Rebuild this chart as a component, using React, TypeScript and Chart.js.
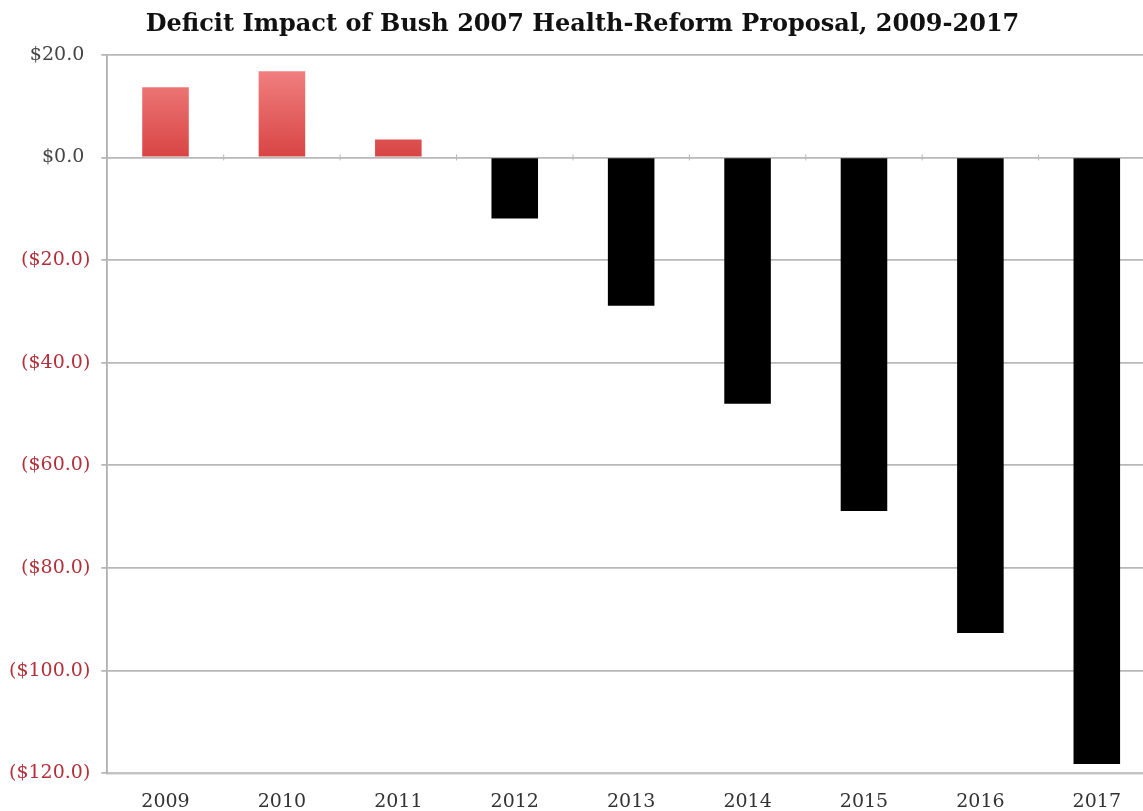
import React, { useEffect, useRef } from "react";
import { Chart, registerables } from "chart.js";

Chart.register(...registerables);

const categories = ["2009", "2010", "2011", "2012", "2013", "2014", "2015", "2016", "2017"];
const deficitImpact = [13.7, 16.8, 3.5, -11.9, -28.9, -48.0, -68.9, -92.7, -118.2];
const yTicks = [20, 0, -20, -40, -60, -80, -100, -120];
const titleText = "\u2002Deficit Impact of Bush 2007 Health-Reform Proposal, 2009-2017";

const FONT = "'DejaVu Serif', serif";

function fmt(v: number): string {
  const s = "$" + Math.abs(v).toFixed(1);
  return v < 0 ? "(" + s + ")" : s + " ";
}

const zeroTicks = {
  id: "zeroTicks",
  afterDatasetsDraw(chart: any) {
    const { ctx, scales } = chart;
    const x = scales.x;
    const y = scales.y;
    const y0 = y.getPixelForValue(0);
    ctx.save();
    ctx.strokeStyle = "#b8b8b8";
    ctx.lineWidth = 1;
    for (let i = 0; i <= categories.length; i++) {
      const px = x.getPixelForValue(i - 0.5);
      ctx.beginPath();
      ctx.moveTo(px, y0 - 3);
      ctx.lineTo(px, y0 + 3);
      ctx.stroke();
    }
    ctx.restore();
  },
};

export default function App() {
  const ref = useRef<HTMLCanvasElement | null>(null);

  useEffect(() => {
    const canvas = ref.current;
    if (!canvas) return;
    const chart = new Chart(canvas, {
      type: "bar",
      data: {
        labels: categories,
        datasets: [
          {
            data: deficitImpact,
            backgroundColor: (c: any) => {
              const v = c.raw as number;
              if (v < 0) return "#000000";
              const { ctx, chartArea, scales } = c.chart;
              if (!chartArea || !scales.y) return "#e65a5a";
              const top = scales.y.getPixelForValue(20);
              const bot = scales.y.getPixelForValue(0);
              const g = ctx.createLinearGradient(0, top, 0, bot);
              g.addColorStop(0, "#f68a8a");
              g.addColorStop(1, "#d84444");
              return g;
            },
            borderWidth: 0,
            barPercentage: 0.4,
            categoryPercentage: 1,
          },
        ],
      },
      options: {
        responsive: false,
        animation: false,
        layout: { padding: { left: 0, right: 0, top: 0, bottom: 0 } },
        plugins: {
          legend: { display: false },
          tooltip: { enabled: false },
          title: {
            display: true,
            text: titleText,
            color: "#111",
            font: { family: FONT, size: 24, weight: "bold" },
            padding: { top: 10, bottom: 16 },
          },
        },
        scales: {
          x: {
            grid: { display: false },
            border: { display: true, color: "#c4c4c4", width: 2.5 },
            ticks: {
              color: "#333",
              font: { family: FONT, size: 19 },
              padding: 9,
            },
          },
          y: {
            min: -120,
            max: 20,
            afterBuildTicks: (scale: any) => {
              scale.ticks = yTicks.map((v) => ({ value: v }));
            },
            grid: { color: "#b8b8b8", lineWidth: 1.8, tickLength: 6 },
            border: { display: true, color: "#b0b0b0", width: 1.8 },
            ticks: {
              padding: 11,
              font: { family: FONT, size: 19 },
              color: (c: any) => (c.tick && c.tick.value < 0 ? "#b3303a" : "#444"),
              callback: (v: any) => fmt(Number(v)),
            },
          },
        },
      },
      plugins: [zeroTicks],
    });
    return () => chart.destroy();
  }, []);

  return (
    <div
      style={{
        position: "fixed",
        left: 0,
        top: 0,
        width: 1143,
        height: 811,
        overflow: "hidden",
        background: "#fff",
      }}
    >
      <canvas
        ref={ref}
        width={1157}
        height={822}
        style={{ display: "block", marginLeft: -2 }}
      />
    </div>
  );
}
